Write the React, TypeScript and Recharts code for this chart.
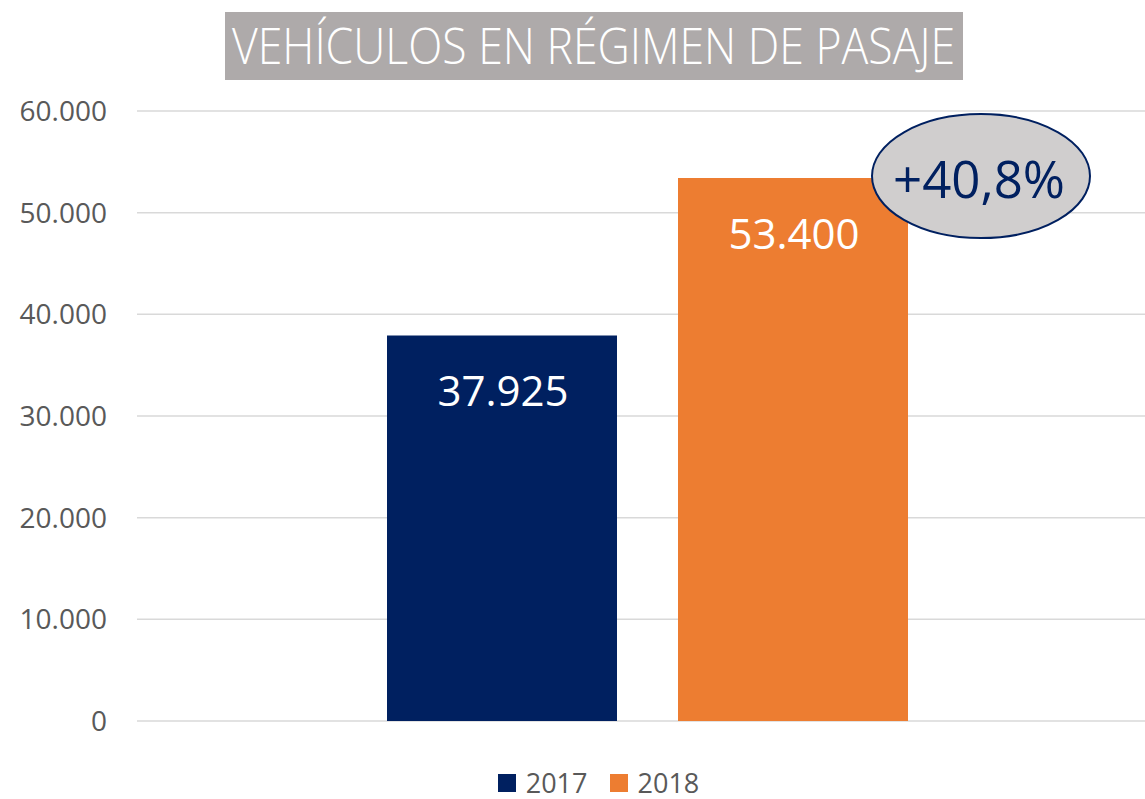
import React from 'react';
import { BarChart, Bar, XAxis, YAxis, CartesianGrid, Legend, LabelList, Customized } from 'recharts';

const categories = ['Vehículos en régimen de pasaje'];
const values2017 = [37925];
const values2018 = [53400];
const seriesNames = ['2017', '2018'];
const yTicks = [0, 10000, 20000, 30000, 40000, 50000, 60000];
const changeLabels = ['+40,8%'];
const titleText = 'VEHÍCULOS EN RÉGIMEN DE PASAJE';

const NAVY = '#002060';
const ORANGE = '#ed7d31';
const GREY_TEXT = '#595959';
const FONT = '"Open Sans", "Noto Sans", sans-serif';

const data = categories.map((c, i) => ({
  name: c,
  s2017: values2017[i],
  s2018: values2018[i],
  change: changeLabels[i],
}));

const fmt = (v: number) => String(v).replace(/\B(?=(\d{3})+(?!\d))/g, '.');

const ValueLabel = (props: any) => {
  const { x, y, width, value } = props;
  return (
    <text x={x + width / 2 + 1} y={y + 54} fill="#ffffff" fontSize={42} fontFamily={FONT}
      textAnchor="middle" dominantBaseline="central">{fmt(value)}</text>
  );
};

const ChangeBubble = (props: any) => {
  const { x, y, width, value } = props;
  const cx = x + width + 73;
  const cy = y - 2;
  return (
    <g>
      <ellipse cx={cx} cy={cy} rx={109} ry={62} fill="#d0cece" stroke={NAVY} strokeWidth={2} />
      <text x={cx - 2} y={cy + 2} fill={NAVY} fontSize={51} fontFamily={FONT}
        textAnchor="middle" dominantBaseline="central">{value}</text>
    </g>
  );
};

const Title = () => (
  <g>
    <rect x={225} y={12} width={738} height={68} fill="#aeaaaa" />
    <text x={232} y={64} fill="#ffffff" fontSize={50} fontFamily={FONT} fontWeight={300}
      textLength={723} lengthAdjust="spacingAndGlyphs">{titleText}</text>
  </g>
);

const LegendContent = () => (
  <div style={{ display: 'flex', justifyContent: 'center', alignItems: 'center', height: 30, fontFamily: FONT, paddingLeft: 52 }}>
    {seriesNames.map((n, i) => (
      <div key={n} style={{ display: 'flex', alignItems: 'center', marginLeft: i === 0 ? 0 : 22 }}>
        <div style={{ width: 18, height: 18, background: i === 0 ? NAVY : ORANGE, marginRight: 10 }} />
        <span style={{ fontSize: 27, color: GREY_TEXT, lineHeight: '30px' }}>{n}</span>
      </div>
    ))}
  </div>
);

export default function App() {
  return (
    <div style={{ position: 'absolute', left: 0, top: 0, width: 1145, height: 799, background: '#ffffff', fontFamily: FONT }}>
      <BarChart width={1145} height={799} data={data}
        margin={{ top: 111, right: 0, left: 0, bottom: 48 }} barSize={230} barGap={61}>
        <CartesianGrid vertical={false} stroke="#d9d9d9" strokeWidth={1.5} />
        <XAxis dataKey="name" tick={false} axisLine={false} tickLine={false} padding={{ left: 12, right: 0 }} height={0} />
        <YAxis domain={[0, 60000]} ticks={yTicks} interval={0} width={137} axisLine={false} tickLine={false}
          tickSize={0} tickMargin={30} tickFormatter={fmt}
          tick={{ fill: GREY_TEXT, fontSize: 28, fontFamily: FONT }} />
        <Legend verticalAlign="bottom" content={<LegendContent />}
          wrapperStyle={{ position: 'absolute', top: 768, left: 0, width: 1145, height: 30 }} />
        <Bar dataKey="s2017" name={seriesNames[0]} fill={NAVY} isAnimationActive={false}>
          <LabelList dataKey="s2017" content={<ValueLabel />} />
        </Bar>
        <Bar dataKey="s2018" name={seriesNames[1]} fill={ORANGE} isAnimationActive={false}>
          <LabelList dataKey="s2018" content={<ValueLabel />} />
          <LabelList dataKey="change" content={<ChangeBubble />} />
        </Bar>
        <Customized component={<Title />} />
      </BarChart>
    </div>
  );
}
